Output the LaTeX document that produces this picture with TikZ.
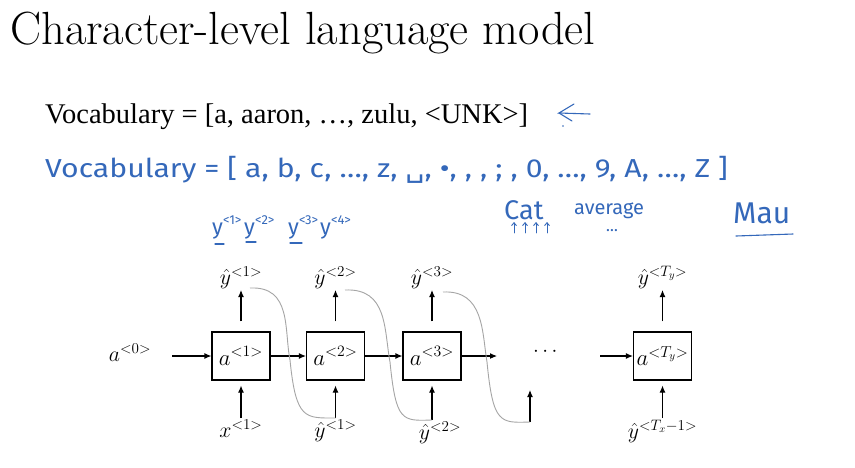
\documentclass[tikz,border=0pt]{standalone}
\usepackage{fontspec}
\usepackage{amsmath}
\newfontfamily\timesf{Liberation Serif}
\newfontfamily\hand{Fira Sans}
\newfontfamily\dejavu{DejaVu Sans}
\usetikzlibrary{arrows.meta}
\definecolor{inkblue}{RGB}{52,104,186}
\definecolor{curvegray}{RGB}{165,165,165}
\newcommand{\cellmath}[1]{\scalebox{1.1}{$#1$}}
\newcommand{\labmath}[1]{\scalebox{1.05}{$#1$}}
\tikzset{
  arr/.style={line width=1.1pt,-{Latex[length=7pt,width=6pt]}},
  cell/.style={draw,line width=1.1pt,minimum width=58pt,minimum height=48pt,inner sep=0pt,font=\fontsize{20}{24}\selectfont},
  lab/.style={inner sep=1pt,font=\fontsize{20}{24}\selectfont},
  feed/.style={curvegray,line width=0.9pt},
  ink/.style={inkblue,font=\hand\fontsize{24}{28}\selectfont,inner sep=0pt},
  inkline/.style={inkblue,line width=1.1pt,line cap=round},
  inkarr/.style={inkblue,line width=0.9pt,line cap=round,-{Straight Barb[length=3pt,width=5pt]}}
}
\begin{document}
\begin{tikzpicture}[x=1pt,y=-1pt]
\useasboundingbox (0,0) rectangle (855,467);
\fill[white] (0,0) rectangle (855,467);
% title
\node[anchor=base west,inner sep=0pt,font=\fontsize{46.5}{54}\selectfont] (title) at (10,44) {Character-level language model};
\node[anchor=base west,inner sep=0pt,font=\timesf\fontsize{28.5}{34}\selectfont] (vocab) at (45,123) {Vocabulary = [a, aaron, \ldots, zulu, <UNK>]};
% handwritten arrow
\draw[inkline] (590,114) -- (559,113) -- (574,104);
\draw[inkline] (559,113) -- (572,121);
\fill[inkblue] (563,126) circle (0.9pt);
% handwritten vocabulary
\node[ink,anchor=west] (hvocab) at (45,170) {\scalebox{1.16}[1]{\fontsize{26}{30}\selectfont Vocabulary = [ a, b, c, \ldots, z, {\dejavu ␣}, •, , , ; , 0, \ldots, 9, A, \ldots, Z ]}};
\node[ink,anchor=base west,font=\hand\fontsize{22}{26}\selectfont] (hy1) at (212,234) {y\raisebox{10pt}{\fontsize{13}{14}\selectfont<1>}};
\node[ink,anchor=base west,font=\hand\fontsize{22}{26}\selectfont] (hy2) at (244,234) {y\raisebox{10pt}{\fontsize{13}{14}\selectfont<2>}};
\node[ink,anchor=base west,font=\hand\fontsize{22}{26}\selectfont] (hy3) at (288,234) {y\raisebox{10pt}{\fontsize{13}{14}\selectfont<3>}};
\node[ink,anchor=base west,font=\hand\fontsize{22}{26}\selectfont] (hy4) at (320,234) {y\raisebox{10pt}{\fontsize{13}{14}\selectfont<4>}};
\draw[inkline] (215,244) -- (224,244);
\draw[inkline] (246,242) -- (256,242);
\draw[inkline] (290,243) -- (302,243);
\node[ink,anchor=base west,font=\hand\fontsize{27}{30}\selectfont] (cat) at (504,219) {Cat};
\foreach \xx in {514,525,536,547}{
  \draw[inkarr] (\xx,233) -- (\xx,222);
}
\node[ink,anchor=base west,font=\hand\fontsize{20}{24}\selectfont] (avg) at (574,214) {average};
\node[ink,anchor=base west,font=\hand\fontsize{16}{18}\selectfont] (hdots) at (606,231) {\ldots};
\node[ink,anchor=base west,font=\hand\fontsize{30}{34}\selectfont] (mau) at (733,223) {Mau};
\draw[inkline] (736,236) -- (793,234);
% RNN cells
\node[cell] (b1) at (241,356) {\cellmath{a^{<1>}}};
\node[cell] (b2) at (335.5,356) {\cellmath{a^{<2>}}};
\node[cell] (b3) at (432,356) {\cellmath{a^{<3>}}};
\node[cell] (b4) at (662.5,356) {\cellmath{a^{<T_y>}}};
\node[lab] (a0) at (130,353) {\labmath{a^{<0>}}};
\node[lab] (dots) at (547,352) {$\cdots$};
\coordinate (c3e) at (497,356);
\coordinate (c4s) at (600,356);
% top outputs
\node[lab,anchor=south] (yt1) at (241,290) {\labmath{\hat{y}^{<1>}}};
\node[lab,anchor=south] (yt2) at (335.5,290) {\labmath{\hat{y}^{<2>}}};
\node[lab,anchor=south] (yt3) at (432,290) {\labmath{\hat{y}^{<3>}}};
\node[lab,anchor=south] (yt4) at (662.5,290) {\labmath{\hat{y}^{<T_y>}}};
% bottom inputs
\node[lab,anchor=north] (xb1) at (241,419) {\labmath{x^{<1>}}};
\node[lab,anchor=north] (xb2) at (335.5,419) {\labmath{\hat{y}^{<1>}}};
\node[lab,anchor=north] (xb3) at (440,421) {\labmath{\hat{y}^{<2>}}};
\node[lab,anchor=north] (xb4) at (662.5,419) {\labmath{\hat{y}^{<T_x-1>}}};
\coordinate (e3b) at (530,422);
\coordinate (e3t) at (530,390);
% horizontal arrows
\draw[arr] ([xshift=20pt]a0.east |- b1.west) -- (b1.west);
\draw[arr] (b1.east) -- (b2.west);
\draw[arr] (b2.east) -- (b3.west);
\draw[arr] (b3.east) -- (c3e);
\draw[arr] (c4s) -- (b4.west);
% vertical arrows
\foreach \i in {1,2,3,4}{
  \draw[arr] ([yshift=10pt]b\i.north) -- (yt\i.south);
  \draw[arr] ([yshift=1pt]xb\i.north -| b\i) -- ([yshift=-5pt]b\i.south);
}
\draw[arr] (e3b) -- (e3t);
% feedback curves
\draw[feed] (250,288) .. controls (292,286) and (284,330) .. (290,360) .. controls (296,420) and (305,418) .. (335.5,418);
\draw[feed] (345,290) .. controls (388,288) and (384,330) .. (390,362) .. controls (396,422) and (402,421) .. (432,420);
\draw[feed] (443,292) .. controls (484,290) and (482,332) .. (487,362) .. controls (493,424) and (500,423) .. (530,422);
\end{tikzpicture}
\end{document}
